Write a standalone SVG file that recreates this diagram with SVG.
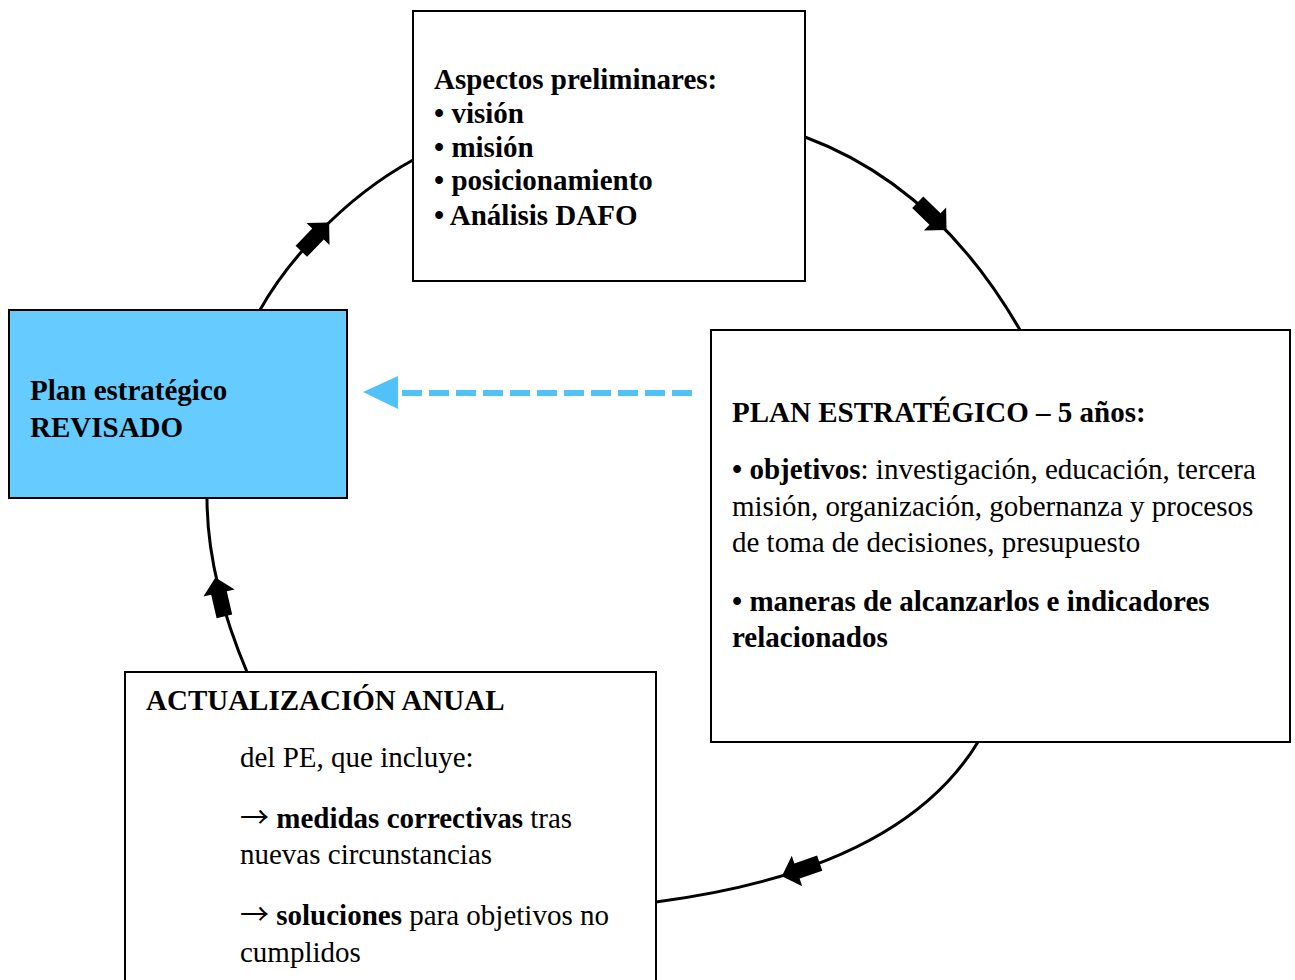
<svg xmlns="http://www.w3.org/2000/svg" width="1295" height="980" viewBox="0 0 1295 980">
<style>
  .box { fill: #ffffff; stroke: #000000; stroke-width: 2; }
  .blue { fill: #66CCFF; stroke: #000000; stroke-width: 2; }
  .t { font-family: "Liberation Serif", "Times New Roman", serif; font-size: 29px; fill: #000000; }
  .b { font-weight: bold; }
  .arr { font-family: "Noto Sans CJK SC", "DejaVu Sans", sans-serif; font-weight: normal; }
  .conn { fill: none; stroke: #000000; stroke-width: 3; }
  .head { fill: #000000; }
  .dash { fill: none; stroke: #50C2F8; stroke-width: 6; stroke-dasharray: 20 7; }
</style>
<defs>
  <polygon id="blk" points="-24,-8 0,-8 0,-16 16,0 0,16 0,8 -24,8"/>
</defs>
<rect width="1295" height="980" fill="#ffffff"/>
<g id="connectors">
  <path class="conn" d="M260,310 C285,265 340,200 413,160"/>
  <path class="conn" d="M805,137 Q937,186 1020,330"/>
  <path class="conn" d="M978,742 Q900,870 656,902"/>
  <path class="conn" d="M247,672 C225,620 207,560 207,498"/>
  <use href="#blk" class="head" transform="translate(318,234) rotate(-46)"/>
  <use href="#blk" class="head" transform="translate(935,219) rotate(44)"/>
  <use href="#blk" class="head" transform="translate(797,871) rotate(161)"/>
  <use href="#blk" class="head" transform="translate(219,593) rotate(-103)"/>
  <line class="dash" x1="692" y1="393" x2="398" y2="393"/>
  <polygon points="363,392 398,376 398,409" fill="#50C2F8"/>
</g>
<g id="node-preliminares">
  <rect class="box" x="413" y="11" width="392" height="270"/>
  <text class="t b" x="434" y="89">Aspectos preliminares:</text>
  <text class="t b" x="434" y="123">• visión</text>
  <text class="t b" x="434" y="157">• misión</text>
  <text class="t b" x="434" y="190">• posicionamiento</text>
  <text class="t b" x="434" y="225">• Análisis DAFO</text>
</g>
<g id="node-revisado">
  <rect class="blue" x="9" y="310" width="338" height="188"/>
  <text class="t b" x="30" y="400">Plan estratégico</text>
  <text class="t b" x="30" y="437">REVISADO</text>
</g>
<g id="node-plan">
  <rect class="box" x="711" y="330" width="579" height="412"/>
  <text class="t b" x="732" y="422">PLAN ESTRATÉGICO – 5 años:</text>
  <text class="t" x="732" y="479"><tspan class="b">• objetivos</tspan>: investigación, educación, tercera</text>
  <text class="t" x="732" y="516">misión, organización, gobernanza y procesos</text>
  <text class="t" x="732" y="552">de toma de decisiones, presupuesto</text>
  <text class="t b" x="732" y="611">• maneras de alcanzarlos e indicadores</text>
  <text class="t b" x="732" y="647">relacionados</text>
</g>
<g id="node-actualizacion">
  <rect class="box" x="125" y="672" width="531" height="330"/>
  <text class="t b" x="146" y="710">ACTUALIZACIÓN ANUAL</text>
  <text class="t" x="240" y="767">del PE, que incluye:</text>
  <text class="t" x="240" y="828"><tspan class="arr">→</tspan> <tspan class="b">medidas correctivas</tspan> tras</text>
  <text class="t" x="240" y="864">nuevas circunstancias</text>
  <text class="t" x="240" y="925"><tspan class="arr">→</tspan> <tspan class="b">soluciones</tspan> para objetivos no</text>
  <text class="t" x="240" y="962">cumplidos</text>
</g>
</svg>
